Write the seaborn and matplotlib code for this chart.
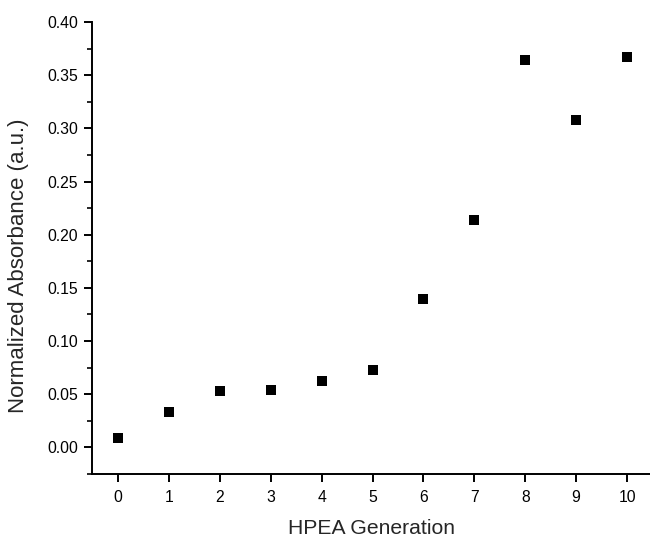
import matplotlib
matplotlib.use('Agg')
import matplotlib.pyplot as plt
import seaborn as sns
import pandas as pd
from matplotlib.ticker import MultipleLocator

generation = [0, 1, 2, 3, 4, 5, 6, 7, 8, 9, 10]
absorbance = [0.0093, 0.0334, 0.0531, 0.0538, 0.0629, 0.0726, 0.140, 0.2142, 0.364, 0.308, 0.367]

df = pd.DataFrame({'HPEA Generation': generation, 'Normalized Absorbance (a.u.)': absorbance})

sns.set_style('ticks')
plt.rcParams['font.family'] = ['Liberation Sans', 'DejaVu Sans']

fig = plt.figure(figsize=(6.5, 5.38), dpi=100)
ax = fig.add_axes([92/650, 1-474/538, 1-92/650, (474-22)/538])

sns.scatterplot(data=df, x='HPEA Generation', y='Normalized Absorbance (a.u.)',
                marker='s', color='black', s=45, linewidth=0, ax=ax)

ax.set_xlim(-0.51, 10.45)
ax.set_ylim(-0.025, 0.40)
ax.set_xticks(generation)
ax.yaxis.set_major_locator(MultipleLocator(0.05))
ax.yaxis.set_minor_locator(MultipleLocator(0.025))
ax.yaxis.set_major_formatter(matplotlib.ticker.FormatStrFormatter('%.2f'))

for side in ['top', 'right']:
    ax.spines[side].set_visible(False)
for side in ['left', 'bottom']:
    ax.spines[side].set_linewidth(1.4)
    ax.spines[side].set_color('black')

ax.tick_params(axis='both', which='major', length=6, width=1.4, labelsize=11.3, colors='black')
ax.tick_params(axis='y', which='major', pad=4)
ax.tick_params(axis='x', which='major', pad=5.5)
ax.tick_params(axis='y', which='minor', length=3.6, width=1.4)
ax.set_xlabel('HPEA Generation', fontsize=15.2)
ax.set_ylabel('Normalized Absorbance (a.u.)', fontsize=16)
ax.xaxis.set_label_coords(0.5, -0.1)
ax.yaxis.set_label_coords(-0.113, 0.46)

fig.savefig('out.png', dpi=100)
